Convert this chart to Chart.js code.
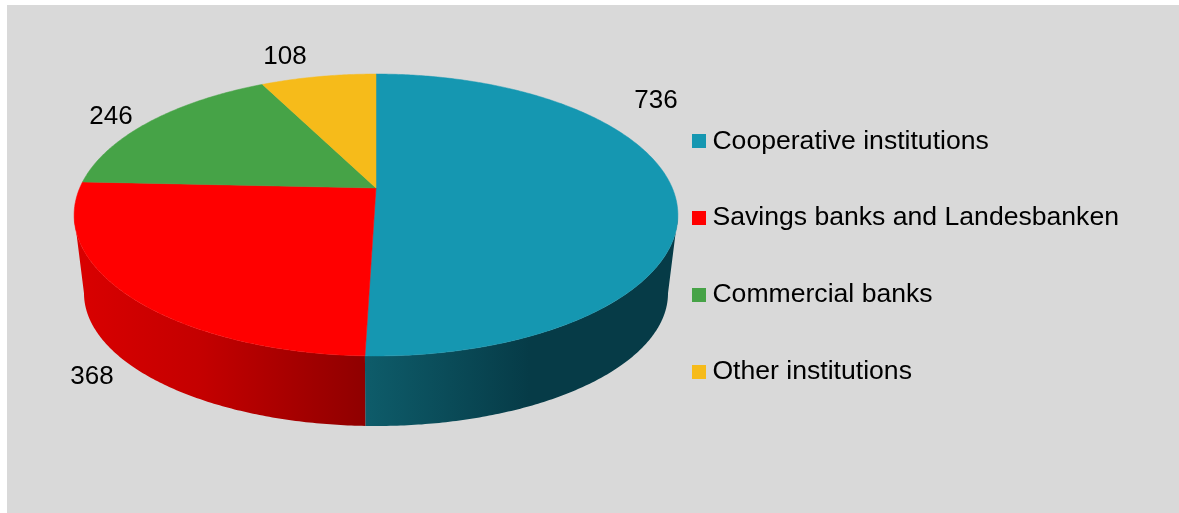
<!DOCTYPE html>
<html>
<head>
<meta charset="utf-8">
<style>
    html, body { margin: 0; background: #fff; }
    #wrap { position: absolute; left: 0; top: 0; width: 1179px; height: 513px; }
</style>
<script src="https://cdn.jsdelivr.net/npm/chart.js@4"></script>
</head>
<body>
<div id="wrap"><canvas id="bankChart" width="1179" height="513"></canvas></div>
<script>
const categories = ["Cooperative institutions", "Savings banks and Landesbanken", "Commercial banks", "Other institutions"];
const institutionCounts = [736, 368, 246, 108];
const sliceColors = ["#1597b1", "#ff0000", "#46a347", "#f6bb1a"];

// where each count sits next to the pie
const valueLabelAnchors = [[656, 101], [92, 377], [111, 117], [285, 57]];

// tilted disc: circle seen in perspective, w = 1 - tilt * y
const topFace = { cx: 376, cy: 188, rx: 296.3, ry: 135.8, tilt: 0.1915 };
const bottomFace = { cx: 376, cy: 267.7, rx: 286.6, ry: 128, tilt: 0.1915 };

// shading of the rim, by horizontal position
const rimShades = {
    0: [[84, "#0e5c6a"], [365, "#0e5c6a"], [530, "#063b47"], [680, "#063b47"]],
    1: [[84, "#d80000"], [200, "#c40000"], [365, "#8f0000"]]
};

function project(face, angle) {
    const px = Math.cos(angle);
    const py = Math.sin(angle);
    const w = 1 - face.tilt * py;
    return [face.cx + face.rx * px / w, face.cy + face.ry * py / w];
}

function arcPoints(face, start, end) {
    const steps = Math.max(2, Math.ceil((end - start) / 0.01));
    const pts = [];
    for (let i = 0; i <= steps; i++) {
        pts.push(project(face, start + (end - start) * i / steps));
    }
    return pts;
}

function tracePoints(ctx, pts) {
    pts.forEach((p, i) => i ? ctx.lineTo(p[0], p[1]) : ctx.moveTo(p[0], p[1]));
}

// legend marker
const swatch = (color) => {
    const c = document.createElement("canvas");
    c.width = 14;
    c.height = 14;
    const g = c.getContext("2d");
    g.fillStyle = color;
    g.fillRect(0, 0, 14, 14);
    return c;
};

const panelBackground = {
    id: "panelBackground",
    beforeDraw(chart) {
        const { ctx, width, height } = chart;
        ctx.save();
        ctx.fillStyle = "#d9d9d9";
        ctx.fillRect(7, 5, width - 7, height - 5);
        ctx.restore();
    }
};

// replaces the flat arcs: rim first, then the slices on top of it
const tiltedPie = {
    id: "tiltedPie",
    beforeDatasetDraw(chart, args) {
        const { ctx } = chart;
        const arcs = args.meta.data;
        // the rim is only visible between the two silhouette angles
        const edge = Math.asin(topFace.tilt);

        arcs.forEach((arc, i) => {
            const stops = rimShades[i];
            if (!stops) return;
            const start = Math.max(arc.startAngle, edge);
            const end = Math.min(arc.endAngle, Math.PI - edge);
            const first = stops[0][0];
            const last = stops[stops.length - 1][0];
            const grad = ctx.createLinearGradient(first, 0, last, 0);
            stops.forEach(s => grad.addColorStop((s[0] - first) / (last - first), s[1]));
            ctx.save();
            ctx.beginPath();
            tracePoints(ctx, arcPoints(topFace, start, end)
                .concat(arcPoints(bottomFace, start, end).reverse()));
            ctx.closePath();
            ctx.fillStyle = grad;
            ctx.fill();
            ctx.restore();
        });

        arcs.forEach((arc, i) => {
            ctx.save();
            ctx.beginPath();
            tracePoints(ctx, [[topFace.cx, topFace.cy]].concat(arcPoints(topFace, arc.startAngle, arc.endAngle)));
            ctx.closePath();
            ctx.fillStyle = sliceColors[i];
            ctx.strokeStyle = sliceColors[i];
            ctx.lineWidth = 0.5;
            ctx.fill();
            ctx.stroke();
            ctx.restore();
        });
        return false;
    },
    afterDatasetsDraw(chart) {
        const { ctx } = chart;
        ctx.save();
        ctx.fillStyle = "#000";
        ctx.font = "26px 'Liberation Sans'";
        ctx.textAlign = "center";
        ctx.textBaseline = "middle";
        institutionCounts.forEach((v, i) => {
            ctx.fillText(String(v), valueLabelAnchors[i][0], valueLabelAnchors[i][1]);
        });
        ctx.restore();
    }
};

new Chart(document.getElementById("bankChart"), {
    type: "pie",
    data: {
        labels: categories,
        datasets: [{
            data: institutionCounts,
            backgroundColor: sliceColors,
            borderWidth: 0
        }]
    },
    options: {
        responsive: false,
        animation: false,
        layout: { padding: { right: 50 } },
        plugins: {
            tooltip: { enabled: false },
            legend: {
                position: "right",
                labels: {
                    color: "#000",
                    font: { family: "'Liberation Sans'", size: 26.6 },
                    usePointStyle: true,
                    pointStyleWidth: 1,
                    padding: 50.1,
                    generateLabels: () => categories.map((text, i) => ({
                        text,
                        index: i,
                        hidden: false,
                        lineWidth: 0,
                        fillStyle: sliceColors[i],
                        pointStyle: swatch(sliceColors[i])
                    }))
                }
            }
        }
    },
    plugins: [panelBackground, tiltedPie]
});
</script>
</body>
</html>
